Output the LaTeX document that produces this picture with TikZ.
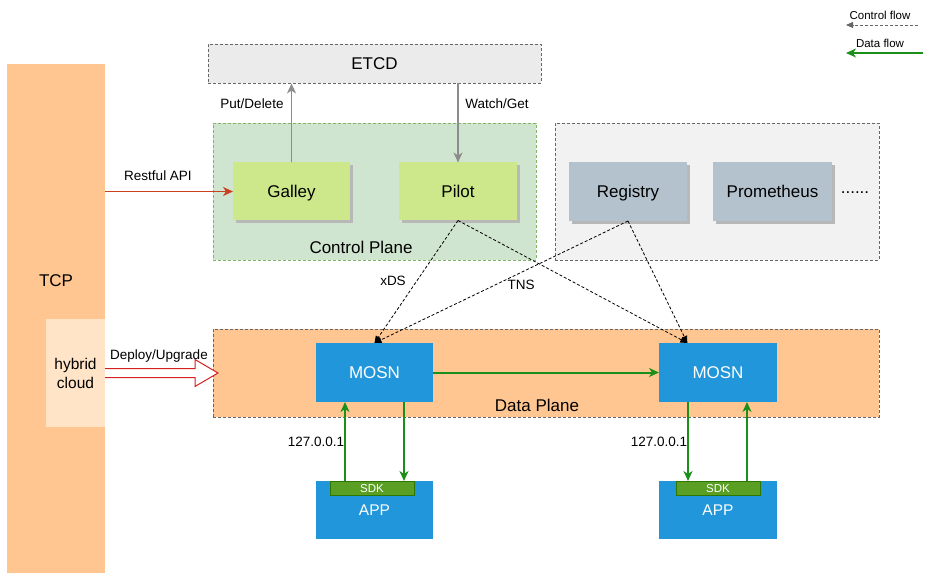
\documentclass[tikz,border=0pt]{standalone}
\usepackage{fontspec}
\setmainfont{Liberation Sans}
\usetikzlibrary{arrows.meta,calc,shadows}
\definecolor{tcporange}{HTML}{FFC691}
\definecolor{hybridc}{HTML}{FFE4C8}
\definecolor{cpfill}{HTML}{D0E5CF}
\definecolor{cpdraw}{HTML}{82B366}
\definecolor{lime}{HTML}{CDE88A}
\definecolor{etcdfill}{HTML}{EBEBEB}
\definecolor{greyfill}{HTML}{F2F2F2}
\definecolor{regfill}{HTML}{B3C2CD}
\definecolor{mosnblue}{HTML}{2196DA}
\definecolor{sdkfill}{HTML}{5A9E24}
\definecolor{sdkdraw}{HTML}{2D7600}
\definecolor{flowgreen}{HTML}{1A8F1A}
\definecolor{apired}{HTML}{C8401E}
\definecolor{deployred}{HTML}{D42020}
\definecolor{dashgrey}{HTML}{666666}
\definecolor{arrgrey}{HTML}{8C8C8C}
\begin{document}
\begin{tikzpicture}[x=1pt,y=-1pt,
  bigf/.style={font=\fontsize{17}{20}\selectfont, text height=15.4pt, text depth=3.6pt},
  midf/.style={font=\fontsize{15.5}{18.5}\selectfont, text height=14pt, text depth=3.3pt},
  lblf/.style={font=\fontsize{13.5}{16}\selectfont, text height=12.2pt, text depth=2.9pt},
  smallf/.style={font=\fontsize{11.5}{14}\selectfont, text height=10.4pt, text depth=2.4pt},
  rect/.style={rectangle, inner sep=0pt, outer sep=0pt},
  dashbox/.style={rect, draw=dashgrey, line width=0.9pt, dash pattern=on 3pt off 2pt},
  comp/.style={rect, bigf, drop shadow={shadow xshift=3pt, shadow yshift=-3pt, fill=black!28, opacity=1}},
  bluebox/.style={rect, fill=mosnblue, text=white},
  sdkbox/.style={rect, fill=sdkfill, draw=sdkdraw, line width=0.9pt, text=white, smallf},
  garr/.style={draw=flowgreen, line width=2pt, -{Stealth[length=10pt,width=9pt,inset=3pt]}},
  greyarr/.style={draw=arrgrey, line width=1.7pt, -{Stealth[length=10pt,width=9pt,inset=3pt]}},
  ctrlarr/.style={draw=black, line width=0.8pt, dash pattern=on 3pt off 2pt, -{Stealth[length=7pt,width=6pt,inset=0pt]}},
]
\useasboundingbox (0,0) rectangle (943,580);
\fill[white] (0,0) rectangle (943,580);

% TCP column
\node[rect, fill=tcporange, minimum width=98pt, minimum height=509pt] (tcp) at (56,318.5) {};
\node[bigf] (tcptext) at (56,281) {TCP};
\node[rect, fill=hybridc, minimum width=59pt, minimum height=108pt, font=\fontsize{15.5}{19}\selectfont, align=center] (hybrid) at (75.5,373) {hybrid\\cloud};

% ETCD
\node[dashbox, fill=etcdfill, minimum width=333pt, minimum height=39pt, bigf] (etcd) at (374.5,64) {ETCD};

% Control plane
\node[rect, fill=cpfill, draw=cpdraw, line width=0.9pt, dash pattern=on 3pt off 2pt, minimum width=323pt, minimum height=137pt] (cp) at (374.5,191.5) {};
\node[bigf] (cptext) at (361,248) {Control Plane};
\node[comp, fill=lime, minimum width=117pt, minimum height=58pt] (galley) at (291.5,191.5) {Galley};
\node[comp, fill=lime, minimum width=118pt, minimum height=58pt] (pilot) at (458,191.5) {Pilot};

% grey box
\node[dashbox, fill=greyfill, minimum width=324pt, minimum height=137pt] (gbox) at (717,191.5) {};
\node[comp, fill=regfill, minimum width=118pt, minimum height=59pt] (registry) at (628,191.5) {Registry};
\node[comp, fill=regfill, minimum width=119pt, minimum height=59pt] (prom) at (772.5,191.5) {Prometheus};
\node[bigf] (dots) at (855,188) {......};

% Data plane
\node[dashbox, fill=tcporange, minimum width=666pt, minimum height=88pt] (dp) at (546,373) {};
\node[bigf] (dptext) at (537,406) {Data Plane};
\node[bluebox, bigf, minimum width=117pt, minimum height=59pt] (mosn1) at (374.5,372.5) {MOSN};
\node[bluebox, bigf, minimum width=118pt, minimum height=59pt] (mosn2) at (718,372.5) {MOSN};

% Apps
\node[bluebox, midf, minimum width=117pt, minimum height=58pt] (app1) at (374.5,510) {APP};
\node[bluebox, midf, minimum width=118pt, minimum height=58pt] (app2) at (718,510) {APP};
\node[sdkbox, minimum width=84pt, minimum height=14pt] (sdk1) at (372,488) {SDK};
\node[sdkbox, minimum width=84pt, minimum height=14pt] (sdk2) at (718,488) {SDK};

% Restful API
\draw[draw=apired, line width=1.7pt, -{Stealth[length=10pt,width=9pt,inset=3pt]}] (tcp.east |- galley.west) -- (galley.west);
\node[lblf] (restlbl) at (158,176) {Restful API};

% ETCD arrows
\draw[greyarr] (galley.north) -- (galley.north |- etcd.south);
\draw[greyarr] (pilot.north |- etcd.south) -- (pilot.north);
\node[lblf] (putlbl) at (252,104) {Put/Delete};
\node[lblf] (watchlbl) at (497,104) {Watch/Get};

% Deploy/Upgrade hollow arrow
\draw[draw=deployred, fill=white, line width=1pt, line join=miter]
  ($(hybrid.east)+(0,-4.5)$) -- ++(90,0) -- ++(0,-9) -- ++(23,13.5) -- ++(-23,13.5) -- ++(0,-9) -- ($(hybrid.east)+(0,4.5)$);
\node[lblf] (deplbl) at (159,355) {Deploy/Upgrade};

% control flows (dashed)
\coordinate (m2in) at ($(mosn2.north west)!0.24!(mosn2.north east)$);
\draw[ctrlarr] (pilot.south) -- (mosn1.north);
\draw[ctrlarr] (pilot.south) -- (m2in);
\draw[ctrlarr] (registry.south) -- (mosn1.north);
\draw[ctrlarr] (registry.south) -- (m2in);
\node[lblf] (xdslbl) at (393,281) {xDS};
\node[lblf] (tnslbl) at (521,285) {TNS};

% data flows
\draw[garr] (mosn1.east) -- (mosn2.west);
\draw[garr] ([xshift=29pt]app1.north west) -- ([xshift=29pt]mosn1.south west);
\draw[garr] ([xshift=88pt]mosn1.south west) -- ([xshift=88pt]app1.north west);
\draw[garr] ([xshift=29pt]mosn2.south west) -- ([xshift=29pt]app2.north west);
\draw[garr] ([xshift=88pt]app2.north west) -- ([xshift=88pt]mosn2.south west);
\node[lblf] (ip1) at (316,442) {127.0.0.1};
\node[lblf] (ip2) at (659,442) {127.0.0.1};

% legend
\node[smallf] (cflbl) at (880,16) {Control flow};
\coordinate (cfs) at (918,25);
\coordinate (cfe) at (846,25);
\draw[ctrlarr, draw=dashgrey] (cfs) -- (cfe);
\node[smallf] (dflbl) at (880,44) {Data flow};
\coordinate (dfs) at (923,53);
\coordinate (dfe) at (846,53);
\draw[garr] (dfs) -- (dfe);
\end{tikzpicture}
\end{document}
